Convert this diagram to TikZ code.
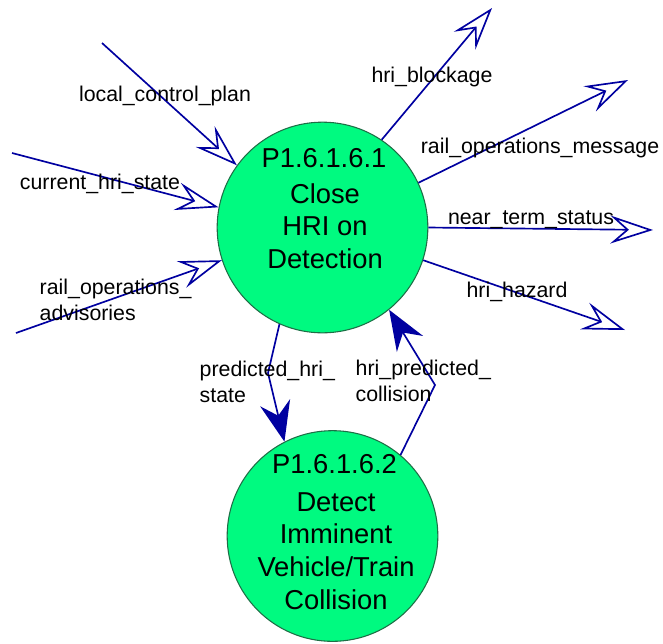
\documentclass[tikz,border=0pt]{standalone}
\usepackage{fontspec}
\setmainfont{Liberation Sans}
\usetikzlibrary{arrows.meta}
\definecolor{flowblue}{RGB}{0,0,160}
\definecolor{procgreen}{RGB}{0,250,128}
\definecolor{procedge}{RGB}{30,110,70}
\tikzset{
  proc/.style={circle,draw=procedge,fill=procgreen,line width=0.8pt,minimum size=158pt,inner sep=0pt},
  procid/.style={font=\fontsize{20.5}{24}\selectfont},
  procname/.style={font=\fontsize{20.5}{24.5}\selectfont,align=center},
  flowext/.style={draw=flowblue,line width=1.25pt,-{Stealth[open,length=32pt,width=21pt,inset=12pt]}},
  flowint/.style={draw=flowblue,line width=1.25pt,-{Stealth[length=30pt,width=23pt,inset=10pt,fill=flowblue]}},
  flowlbl/.style={font=\fontsize{16}{19.5}\selectfont}
}
\begin{document}
\begin{tikzpicture}[x=0.75pt,y=-0.75pt]
      \useasboundingbox (0,0) rectangle (663,643);
      \node[proc] (p1) at (322.5,227.5) {};
      \node[proc] (p2) at (332.5,536) {};
      \node[procid] (p1id) at (324,158) {P1.6.1.6.1};
      \node[procname] (p1name) at (325,226) {Close\\HRI on\\Detection};
      \node[procid] (p2id) at (334.5,464) {P1.6.1.6.2};
      \node[procname] (p2name) at (336,551) {Detect\\Imminent\\Vehicle/Train\\Collision};
      \foreach \nm/\ang/\px/\py in {lcp/144.5/102/43,chs/169.6/12/153,roa/198.4/16/333}{
        \coordinate (\nm) at (\px,\py);
        \draw[flowext] (\nm) -- (p1.\ang);
      }
      \foreach \nm/\ang/\px/\py in {hb/56.1/492/8,rom/25.7/628/80,nts/-0.3/653/230,hh/-18.4/625/330}{
        \coordinate (\nm) at (\px,\py);
        \draw[flowext] (p1.\ang) -- (\nm);
      }
      \coordinate (phs) at (268,373);
      \coordinate (hpc) at (435,385);
      \draw[flowint] (p1.246.2) -- (phs) -- (p2.117);
      \draw[flowint] (p2.50.3) -- (hpc) -- (p1.309.5);
      \foreach \nm/\px/\py/\txt in {llcp/165/96/local\_control\_plan,lchs/100/184/current\_hri\_state,lhb/432/77/hri\_blockage,lrom/540/148/rail\_operations\_message,lnts/531/220/near\_term\_status,lhh/517/292/hri\_hazard}{
        \node[flowlbl] (\nm) at (\px,\py) {\txt};
      }
      \node[flowlbl,anchor=west,align=left] (lroa) at (35,300) {rail\_operations\_\\advisories};
      \node[flowlbl,anchor=west,align=left] (lphs) at (195,382) {predicted\_hri\_\\state};
      \node[flowlbl,anchor=west,align=left] (lhpc) at (351,381) {hri\_predicted\_\\collision};
    \end{tikzpicture}
\end{document}
